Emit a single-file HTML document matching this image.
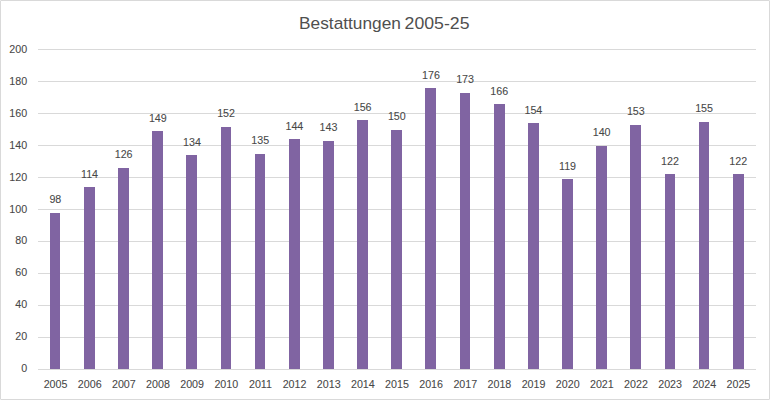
<!DOCTYPE html>
<html><head><meta charset="utf-8"><title>Bestattungen 2005-25</title>
<style>html,body{margin:0;padding:0;background:#fff;}body{width:770px;height:400px;overflow:hidden;font-family:"Liberation Sans",sans-serif;}</style>
</head><body>
<svg width="770" height="400" viewBox="0 0 770 400" style="display:block">
<rect x="0" y="0" width="770" height="400" fill="#fff"/>
<rect x="0.5" y="0.5" width="769" height="399" fill="none" stroke="#D9D9D9" stroke-width="1" shape-rendering="crispEdges"/>
<rect x="0" y="0" width="1" height="1" fill="#E9E9E9" shape-rendering="crispEdges"/>
<rect x="769" y="0" width="1" height="1" fill="#E9E9E9" shape-rendering="crispEdges"/>
<rect x="0" y="399" width="1" height="1" fill="#E9E9E9" shape-rendering="crispEdges"/>
<rect x="769" y="399" width="1" height="1" fill="#E9E9E9" shape-rendering="crispEdges"/>
<rect x="38" y="49" width="718" height="1" fill="#D9D9D9" shape-rendering="crispEdges"/>
<rect x="38" y="81" width="718" height="1" fill="#D9D9D9" shape-rendering="crispEdges"/>
<rect x="38" y="113" width="718" height="1" fill="#D9D9D9" shape-rendering="crispEdges"/>
<rect x="38" y="145" width="718" height="1" fill="#D9D9D9" shape-rendering="crispEdges"/>
<rect x="38" y="177" width="718" height="1" fill="#D9D9D9" shape-rendering="crispEdges"/>
<rect x="38" y="209" width="718" height="1" fill="#D9D9D9" shape-rendering="crispEdges"/>
<rect x="38" y="241" width="718" height="1" fill="#D9D9D9" shape-rendering="crispEdges"/>
<rect x="38" y="273" width="718" height="1" fill="#D9D9D9" shape-rendering="crispEdges"/>
<rect x="38" y="305" width="718" height="1" fill="#D9D9D9" shape-rendering="crispEdges"/>
<rect x="38" y="337" width="718" height="1" fill="#D9D9D9" shape-rendering="crispEdges"/>
<rect x="38" y="369" width="718" height="1" fill="#D9D9D9" shape-rendering="crispEdges"/>
<rect x="50" y="213" width="10" height="156" fill="#8064A2" shape-rendering="crispEdges"/>
<rect x="84" y="187" width="11" height="182" fill="#8064A2" shape-rendering="crispEdges"/>
<rect x="118" y="168" width="11" height="201" fill="#8064A2" shape-rendering="crispEdges"/>
<rect x="152" y="131" width="11" height="238" fill="#8064A2" shape-rendering="crispEdges"/>
<rect x="186" y="155" width="11" height="214" fill="#8064A2" shape-rendering="crispEdges"/>
<rect x="221" y="127" width="10" height="242" fill="#8064A2" shape-rendering="crispEdges"/>
<rect x="255" y="154" width="10" height="215" fill="#8064A2" shape-rendering="crispEdges"/>
<rect x="289" y="139" width="11" height="230" fill="#8064A2" shape-rendering="crispEdges"/>
<rect x="323" y="141" width="11" height="228" fill="#8064A2" shape-rendering="crispEdges"/>
<rect x="357" y="120" width="11" height="249" fill="#8064A2" shape-rendering="crispEdges"/>
<rect x="391" y="130" width="11" height="239" fill="#8064A2" shape-rendering="crispEdges"/>
<rect x="425" y="88" width="11" height="281" fill="#8064A2" shape-rendering="crispEdges"/>
<rect x="460" y="93" width="10" height="276" fill="#8064A2" shape-rendering="crispEdges"/>
<rect x="494" y="104" width="11" height="265" fill="#8064A2" shape-rendering="crispEdges"/>
<rect x="528" y="123" width="11" height="246" fill="#8064A2" shape-rendering="crispEdges"/>
<rect x="562" y="179" width="11" height="190" fill="#8064A2" shape-rendering="crispEdges"/>
<rect x="596" y="146" width="11" height="223" fill="#8064A2" shape-rendering="crispEdges"/>
<rect x="630" y="125" width="11" height="244" fill="#8064A2" shape-rendering="crispEdges"/>
<rect x="665" y="174" width="10" height="195" fill="#8064A2" shape-rendering="crispEdges"/>
<rect x="699" y="122" width="10" height="247" fill="#8064A2" shape-rendering="crispEdges"/>
<rect x="733" y="174" width="11" height="195" fill="#8064A2" shape-rendering="crispEdges"/>
<g font-family="Liberation Sans, sans-serif" fill="#474747" stroke="#474747" stroke-width="0.08" font-size="10.7">
<text x="27.2" y="53" text-anchor="end">200</text>
<text x="27.2" y="85" text-anchor="end">180</text>
<text x="27.2" y="117" text-anchor="end">160</text>
<text x="27.2" y="149" text-anchor="end">140</text>
<text x="27.2" y="181" text-anchor="end">120</text>
<text x="27.2" y="213" text-anchor="end">100</text>
<text x="27.2" y="244" text-anchor="end">80</text>
<text x="27.2" y="276" text-anchor="end">60</text>
<text x="27.2" y="308" text-anchor="end">40</text>
<text x="27.2" y="340" text-anchor="end">20</text>
<text x="27.2" y="372" text-anchor="end">0</text>
<text x="55.57" y="388" text-anchor="middle">2005</text>
<text x="55.37" y="203" text-anchor="middle">98</text>
<text x="89.71" y="388" text-anchor="middle">2006</text>
<text x="89.51" y="178" text-anchor="middle">114</text>
<text x="123.86" y="388" text-anchor="middle">2007</text>
<text x="123.66" y="158" text-anchor="middle">126</text>
<text x="158.00" y="388" text-anchor="middle">2008</text>
<text x="157.80" y="122" text-anchor="middle">149</text>
<text x="192.14" y="388" text-anchor="middle">2009</text>
<text x="191.94" y="146" text-anchor="middle">134</text>
<text x="226.29" y="388" text-anchor="middle">2010</text>
<text x="226.09" y="117" text-anchor="middle">152</text>
<text x="260.43" y="388" text-anchor="middle">2011</text>
<text x="260.23" y="144" text-anchor="middle">135</text>
<text x="294.57" y="388" text-anchor="middle">2012</text>
<text x="294.37" y="130" text-anchor="middle">144</text>
<text x="328.71" y="388" text-anchor="middle">2013</text>
<text x="328.51" y="131" text-anchor="middle">143</text>
<text x="362.86" y="388" text-anchor="middle">2014</text>
<text x="362.66" y="111" text-anchor="middle">156</text>
<text x="397.00" y="388" text-anchor="middle">2015</text>
<text x="396.80" y="120" text-anchor="middle">150</text>
<text x="431.14" y="388" text-anchor="middle">2016</text>
<text x="430.94" y="79" text-anchor="middle">176</text>
<text x="465.29" y="388" text-anchor="middle">2017</text>
<text x="465.09" y="83" text-anchor="middle">173</text>
<text x="499.43" y="388" text-anchor="middle">2018</text>
<text x="499.23" y="95" text-anchor="middle">166</text>
<text x="533.57" y="388" text-anchor="middle">2019</text>
<text x="533.37" y="114" text-anchor="middle">154</text>
<text x="567.71" y="388" text-anchor="middle">2020</text>
<text x="567.51" y="170" text-anchor="middle">119</text>
<text x="601.86" y="388" text-anchor="middle">2021</text>
<text x="601.66" y="136" text-anchor="middle">140</text>
<text x="636.00" y="388" text-anchor="middle">2022</text>
<text x="635.80" y="115" text-anchor="middle">153</text>
<text x="670.14" y="388" text-anchor="middle">2023</text>
<text x="669.94" y="165" text-anchor="middle">122</text>
<text x="704.29" y="388" text-anchor="middle">2024</text>
<text x="704.09" y="112" text-anchor="middle">155</text>
<text x="738.43" y="388" text-anchor="middle">2025</text>
<text x="738.23" y="165" text-anchor="middle">122</text>
</g>
<g font-family="Liberation Sans, sans-serif" font-size="16.7" fill="#4f4f4f"><text x="299.05" y="29" textLength="101.9" lengthAdjust="spacingAndGlyphs">Bestattungen</text><text x="404.6" y="29" textLength="64.9" lengthAdjust="spacingAndGlyphs">2005-25</text></g>
</svg>
</body></html>
